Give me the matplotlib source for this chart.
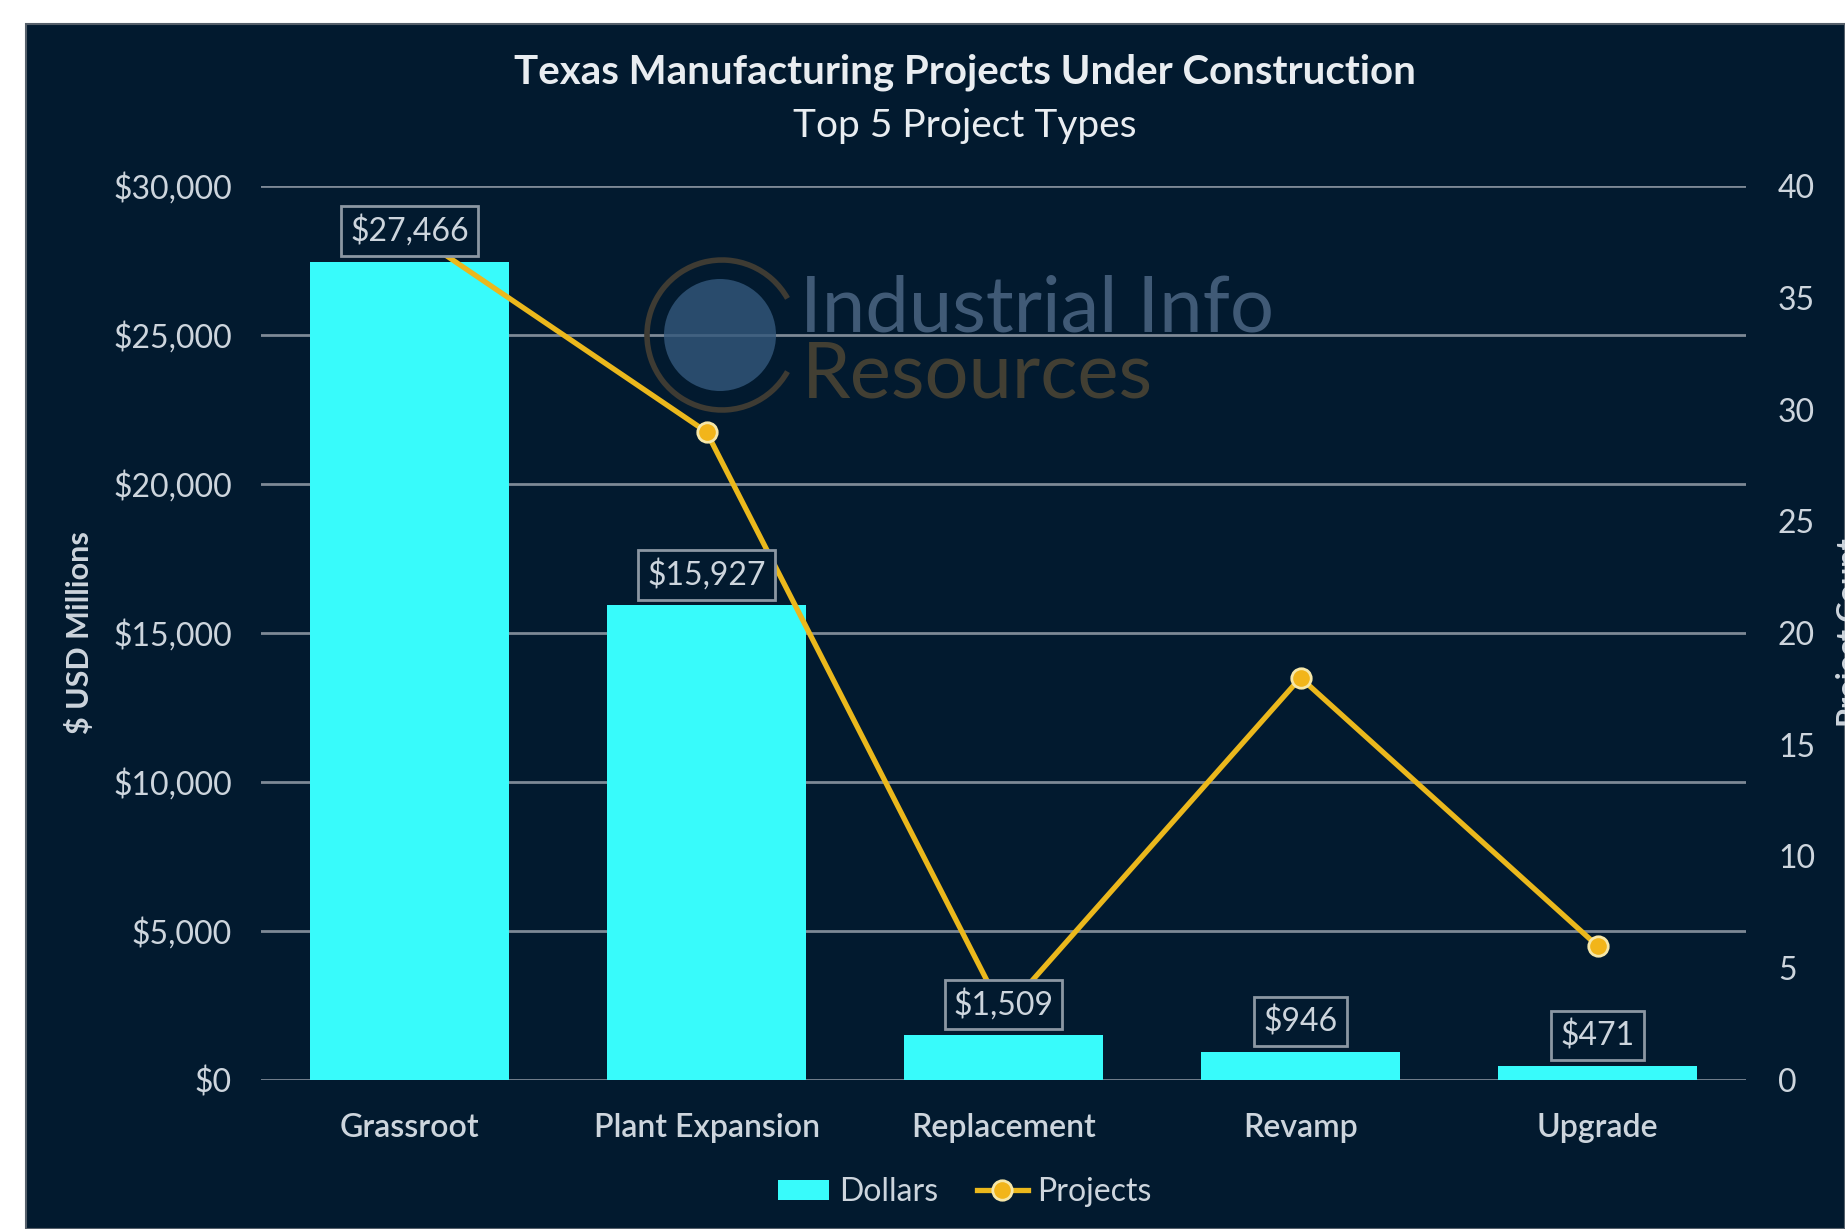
import numpy as np
import matplotlib
matplotlib.use('Agg')
import matplotlib.pyplot as plt
from matplotlib.patches import Rectangle, Ellipse, Arc
from matplotlib.lines import Line2D
from matplotlib.patches import Patch

plt.rcParams['font.family'] = ['Lato', 'DejaVu Sans']

# data
categories = ['Grassroot', 'Plant Expansion', 'Replacement', 'Revamp', 'Upgrade']
dollars = [27466, 15927, 1509, 946, 471]
projects = [38, 29, 3, 18, 6]
dollar_ticks = [0, 5000, 10000, 15000, 20000, 25000, 30000]
count_ticks = [0, 5, 10, 15, 20, 25, 30, 35, 40]

bg = '#021a2f'
cyan = '#38fbfb'
gold = '#ebb81c'
txt = '#cdd5dd'
grid_c = '#7d8996'

W, H = 1845, 1229
fig = plt.figure(figsize=(W / 100, H / 100), dpi=100)
fig.patch.set_facecolor('white')
fig.add_artist(Rectangle((26 / W, 0), 1 - 26 / W, 1 - 24 / H, transform=fig.transFigure,
                         facecolor=bg, edgecolor='#56606b', lw=1.5, zorder=0))

ax = fig.add_axes([261 / W, 1 - 1080 / H, (1746 - 261) / W, (1080 - 186) / H])
ax.set_facecolor('none')
ax2 = ax.twinx()

x = np.arange(len(categories))
ax.bar(x, dollars, width=0.67, color=cyan, zorder=3)
ax.set_xlim(-0.5, len(categories) - 0.5)
ax.set_ylim(0, 30000)
ax.set_yticks(dollar_ticks)
ax.set_yticklabels(['${:,}'.format(v) for v in dollar_ticks])
ax.set_xticks(x)
ax.set_xticklabels(categories, fontweight='semibold')
ax.grid(axis='y', color=grid_c, lw=2, zorder=1)
ax.set_axisbelow(True)
ax.tick_params(axis='y', length=0, pad=21, labelsize=23, labelcolor=txt)
ax.tick_params(axis='x', length=0, pad=24, labelsize=23, labelcolor=txt)
for s in ax.spines.values():
    s.set_visible(False)
ax.set_ylabel('$ USD Millions', fontsize=22, color=txt, fontweight='bold', labelpad=14)

ax2.plot(x, projects, color=gold, lw=3.8, marker='o', ms=14, mfc='#f2b51a',
         mec='#f6e7a8', mew=2, zorder=4)
ax2.set_ylim(0, 40)
ax2.set_yticks(count_ticks)
ax2.tick_params(axis='y', length=0, pad=23, labelsize=23, labelcolor=txt)
for s in ax2.spines.values():
    s.set_visible(False)

# secondary axis title sits at the right edge, partly cut off as in the source
fig.text(1850 / W, 1 - 633 / H, 'Project Count', fontsize=22, color=txt,
         fontweight='bold', rotation=90, ha='center', va='center')

# data labels above bars, drawn over the line
for xi, v in zip(x, dollars):
    ax2.annotate('${:,}'.format(v), xy=(xi, v), xycoords=ax.transData,
                 xytext=(0, 10.5), textcoords='offset points', ha='center', va='bottom',
                 fontsize=23, color=txt, zorder=6,
                 bbox=dict(boxstyle='square,pad=0.28', fc=bg, ec='#8b97a3', lw=2))

# watermark
fig.text(800 / W, 1 - 332 / H, 'Industrial Info', fontsize=56, color='#48627f',
         ha='left', va='baseline', alpha=0.9, zorder=2)
fig.text(802 / W, 1 - 398 / H, 'Resources', fontsize=56, color='#4a4434',
         ha='left', va='baseline', alpha=0.9, zorder=2)
fig.add_artist(Ellipse((720 / W, 1 - 335 / H), 112 / W, 112 / H, transform=fig.transFigure,
                       facecolor='#33587c', edgecolor='none', alpha=0.8, zorder=2))
fig.add_artist(Arc((722 / W, 1 - 335 / H), 150 / W, 150 / H, theta1=40, theta2=320,
                   transform=fig.transFigure, color='#3e3b33', lw=4, zorder=2))

# titles
fig.text(965 / W, 1 - 72 / H, 'Texas Manufacturing Projects Under Construction',
         fontsize=29, fontweight='bold', color='#e9edf1', ha='center', va='center')
fig.text(965 / W, 1 - 126 / H, 'Top 5 Project Types', fontsize=28, color='#e9edf1',
         ha='center', va='center')

handles = [Patch(facecolor=cyan, label='Dollars'),
           Line2D([0], [0], color=gold, lw=3.8, marker='o', ms=14, mfc='#f2b51a',
                  mec='#f6e7a8', mew=2, label='Projects')]
leg = fig.legend(handles=handles, loc='center', bbox_to_anchor=(965 / W, 1 - 1192 / H),
                 ncol=2, frameon=False, fontsize=23, handlelength=1.6, handleheight=0.6,
                 handletextpad=0.3, columnspacing=1.2)
for t in leg.get_texts():
    t.set_color(txt)

fig.savefig('out.png', dpi=100, facecolor=fig.get_facecolor())
